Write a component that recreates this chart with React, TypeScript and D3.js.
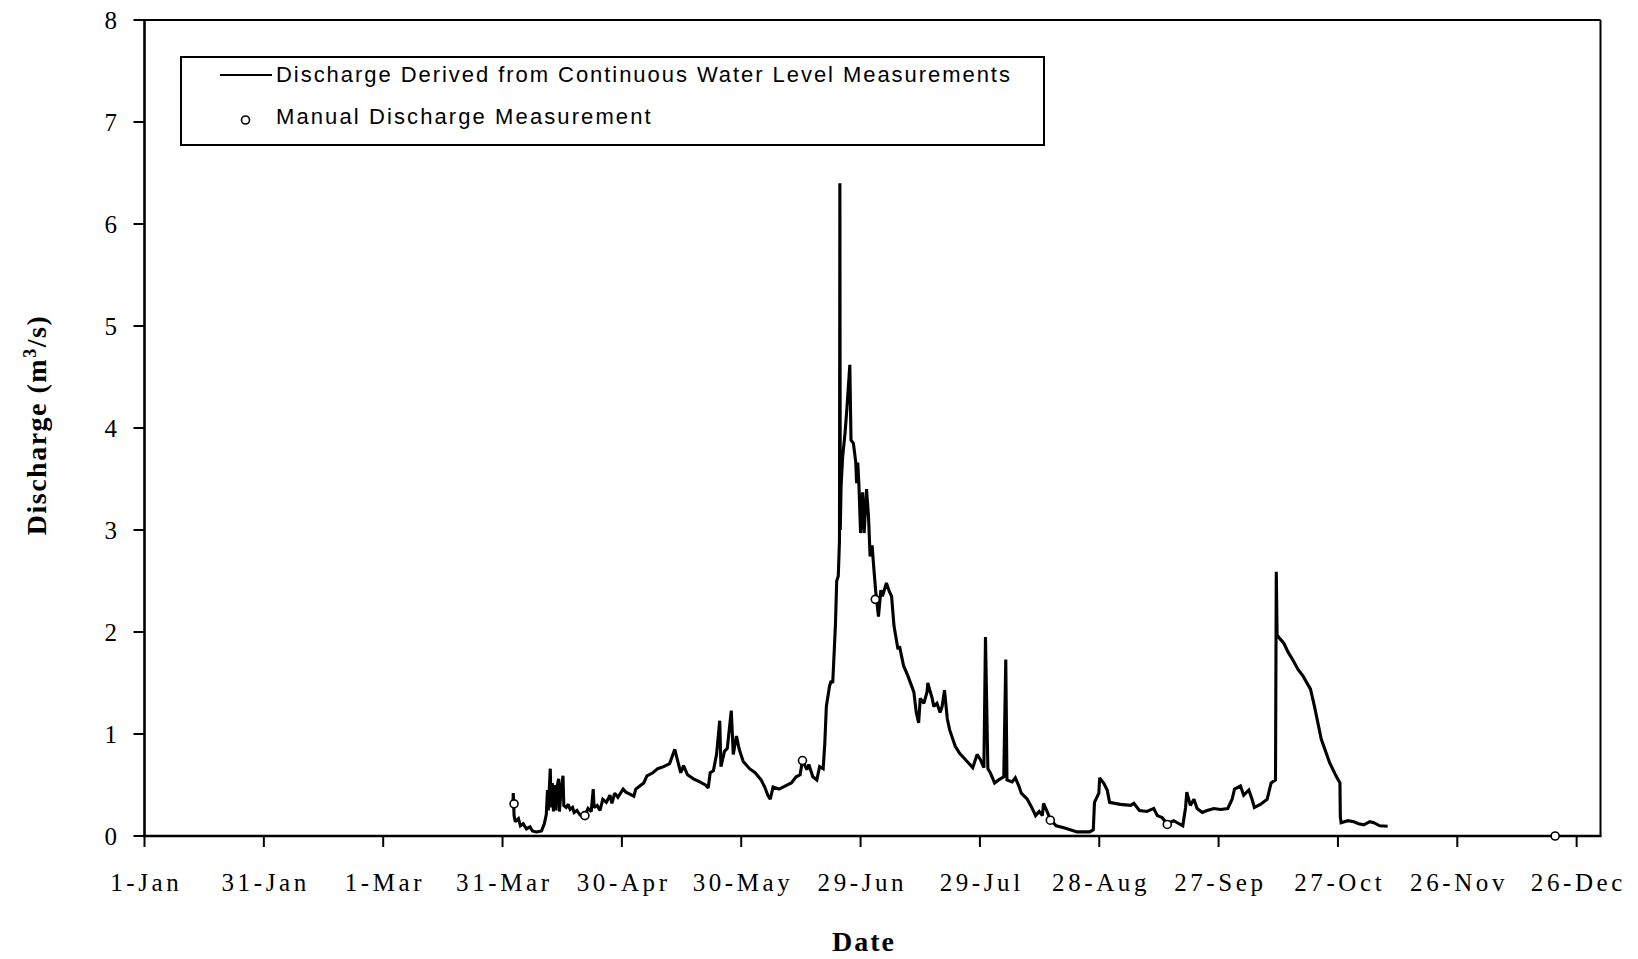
import React from "react";
import * as d3 from "d3";

// Day of year (0 = 1-Jan), discharge in m3/s
const dischargeSeries: [number, number][] = [
  [92.6, 0.3], [92.7, 0.42], [92.9, 0.2], [93.2, 0.14], [94, 0.17], [94.5, 0.1], [95.2, 0.12], [96, 0.07],
  [96.9, 0.09], [97.5, 0.05], [98.5, 0.04], [99.8, 0.05], [100.5, 0.12], [101, 0.21],
  [101.3, 0.45], [101.5, 0.25], [101.8, 0.5], [102, 0.66], [102.2, 0.28], [102.5, 0.52], [102.8, 0.24],
  [103.1, 0.5], [103.4, 0.25], [103.7, 0.48], [104.1, 0.56], [104.3, 0.24], [104.7, 0.45], [105.2, 0.59],
  [105.4, 0.3], [106, 0.28], [106.5, 0.31], [107, 0.26], [107.6, 0.28], [108, 0.23], [108.7, 0.25], [109.4, 0.21], [110, 0.19], [110.7, 0.2],
  [111.5, 0.27], [112.3, 0.24], [112.8, 0.46], [113, 0.28], [113.8, 0.3], [114.5, 0.25], [115.2, 0.36],
  [116.1, 0.33], [117, 0.4], [117.5, 0.32], [118.2, 0.42], [119, 0.38], [120.3, 0.46], [121, 0.43],
  [122, 0.41], [123, 0.39], [123.5, 0.46], [124.5, 0.49], [125.5, 0.52], [126.3, 0.59], [127.8, 0.62],
  [129, 0.66], [130.5, 0.68], [132, 0.71], [133.3, 0.85], [134, 0.74], [134.8, 0.62], [135.5, 0.69],
  [136.5, 0.6], [138, 0.56], [139.6, 0.53], [141, 0.5], [141.7, 0.47], [142.2, 0.62], [143, 0.64],
  [143.8, 0.8], [144.6, 1.13], [144.9, 0.68], [145.8, 0.83], [146.5, 0.86], [147.5, 1.23], [148, 0.8],
  [148.8, 0.98], [149.5, 0.85], [150.5, 0.73], [152.1, 0.66], [153.5, 0.62], [155, 0.55], [155.9, 0.48],
  [156.7, 0.4], [157.3, 0.36], [158, 0.48], [159.5, 0.46], [161, 0.49], [162.6, 0.52], [163.8, 0.58],
  [164.8, 0.6], [165.4, 0.74], [166.5, 0.65], [167, 0.7], [168, 0.58], [169, 0.55], [169.7, 0.68],
  [170.6, 0.66], [171, 0.9], [171.4, 1.27], [172.2, 1.47], [172.6, 1.52], [173, 1.5], [173.4, 1.83],
  [173.7, 2.09], [174, 2.5], [174.4, 2.55], [174.7, 2.9], [174.8, 6.4], [174.9, 3.0], [175.1, 3.43],
  [175.5, 3.72], [176.1, 3.95], [176.6, 4.21], [177.3, 4.62], [177.6, 3.88], [178.2, 3.85], [178.8, 3.66],
  [179, 3.46], [179.3, 3.66], [179.6, 3.43], [180, 2.97], [180.5, 3.37], [180.9, 2.97], [181.5, 3.4],
  [182, 3.13], [182.4, 2.74], [182.9, 2.85], [183.3, 2.64], [183.8, 2.4], [184.5, 2.15], [185.1, 2.41],
  [185.5, 2.35], [186.5, 2.48], [187.2, 2.4], [187.8, 2.35], [188.4, 2.06], [189.4, 1.83], [189.8, 1.86],
  [190.8, 1.67], [191.9, 1.57], [193.4, 1.41], [194, 1.21], [194.6, 1.11], [195, 1.35], [195.9, 1.3],
  [196.7, 1.41], [196.9, 1.5], [198, 1.35], [198.4, 1.27], [199.2, 1.3], [200, 1.21], [200.5, 1.27],
  [201.1, 1.43], [201.8, 1.15], [202.4, 1.04], [203.8, 0.88], [204.9, 0.81], [206.8, 0.73], [208.2, 0.67],
  [209.3, 0.8], [210.1, 0.75], [211, 0.67], [211.4, 1.95], [212, 0.66], [212.6, 0.62], [213.7, 0.52],
  [214.7, 0.55], [216, 0.58], [216.5, 1.73], [216.8, 0.55], [218.1, 0.53], [218.9, 0.57], [219.8, 0.49],
  [220.4, 0.42], [221.9, 0.36], [222.9, 0.29], [224, 0.2], [224.9, 0.24], [225.7, 0.2], [226, 0.32],
  [226.9, 0.24], [227.7, 0.16], [229.2, 0.1], [231.1, 0.08], [232.5, 0.064], [234.4, 0.04], [237.6, 0.04],
  [238.5, 0.06], [238.8, 0.33], [239.9, 0.42], [240.1, 0.57], [241.1, 0.52], [242, 0.45], [242.6, 0.33],
  [245.3, 0.31], [247.9, 0.3], [248.7, 0.32], [250.1, 0.25], [252, 0.24], [253.7, 0.27], [254.6, 0.2],
  [255.8, 0.18], [257.1, 0.12], [258.7, 0.15], [261, 0.1], [261.7, 0.28], [262, 0.43], [262.9, 0.3],
  [263.8, 0.36], [264.6, 0.27], [265.9, 0.23], [267.1, 0.25], [268.8, 0.27], [270.5, 0.26], [272.3, 0.27],
  [273.4, 0.36], [274, 0.46], [275.5, 0.49], [276.3, 0.4], [277.6, 0.45], [278.4, 0.36], [279, 0.28],
  [280.5, 0.31], [282.2, 0.36], [283.2, 0.52], [284.3, 0.55], [284.5, 2.59], [284.7, 1.97], [285.5, 1.93],
  [286.4, 1.89], [287.5, 1.8], [288.6, 1.73], [290, 1.63], [291.2, 1.57], [293.1, 1.44], [294.1, 1.27],
  [295.8, 0.95], [297.9, 0.72], [299.5, 0.59], [300.5, 0.52], [300.6, 0.19], [300.8, 0.13], [302.5, 0.15],
  [304, 0.14], [305.2, 0.12], [306.5, 0.11], [308, 0.14], [309, 0.13], [310.5, 0.1], [312.5, 0.096],
];

const manualMeasurements: [number, number][] = [
  [92.9, 0.315], [110.7, 0.2], [165.4, 0.74], [183.7, 2.32], [227.7, 0.155], [257.1, 0.113], [354.6, 0.0],
];

const xTickDays = [0, 30, 60, 90, 120, 150, 180, 210, 240, 270, 300, 330, 360];
const xTickLabels = [
  "1-Jan", "31-Jan", "1-Mar", "31-Mar", "30-Apr", "30-May", "29-Jun",
  "29-Jul", "28-Aug", "27-Sep", "27-Oct", "26-Nov", "26-Dec",
];
const yTicks = [0, 1, 2, 3, 4, 5, 6, 7, 8];

const legendLineLabel = "Discharge Derived from Continuous Water Level Measurements";
const legendPointLabel = "Manual Discharge Measurement";

const W = 1638;
const H = 959;
const left = 144.5;
const right = 1600.5;
const top = 20;
const bottom = 836;

export default function App() {
  const x = d3.scaleLinear().domain([0, 366]).range([left, right]);
  const y = d3.scaleLinear().domain([0, 8]).range([bottom, top]);
  const line = d3
    .line<[number, number]>()
    .x((d) => x(d[0]))
    .y((d) => y(d[1]));

  const serif = "'Liberation Serif', 'Times New Roman', serif";
  const sans = "'Liberation Sans', Arial, sans-serif";

  return (
    <svg
      width={W}
      height={H}
      style={{ position: "absolute", left: 0, top: 0, background: "#fff" }}
    >
      <rect x={0} y={0} width={W} height={H} fill="#fff" />
      {/* frame */}
      <line x1={left} x2={right} y1={top} y2={top} stroke="#000" strokeWidth={2} />
      <line x1={right} x2={right} y1={top} y2={bottom} stroke="#000" strokeWidth={2} />
      {/* data line */}
      <path d={line(dischargeSeries) ?? ""} fill="none" stroke="#000" strokeWidth={3.1} strokeLinejoin="miter" strokeMiterlimit={2} />
      {/* axes */}
      <line x1={left} x2={left} y1={top - 1} y2={bottom + 1.2} stroke="#000" strokeWidth={2.6} />
      <line x1={left - 1} x2={right + 1} y1={bottom} y2={bottom} stroke="#000" strokeWidth={2.4} />
      {yTicks.map((t) => (
        <g key={"y" + t}>
          <line x1={left - 11} x2={left} y1={y(t)} y2={y(t)} stroke="#000" strokeWidth={2} />
          <text
            x={117}
            y={y(t)}
            dy="0.35em"
            textAnchor="end"
            fontFamily={serif}
            fontSize={25}
          >
            {t}
          </text>
        </g>
      ))}
      {xTickDays.map((t, i) => (
        <g key={"x" + t}>
          <line x1={x(t)} x2={x(t)} y1={bottom} y2={bottom + 11} stroke="#000" strokeWidth={2} />
          <text
            x={x(t) + 1.8}
            y={891}
            textAnchor="middle"
            fontFamily={serif}
            fontSize={25}
            letterSpacing={3.6}
          >
            {xTickLabels[i]}
          </text>
        </g>
      ))}
      {/* manual measurements */}
      {manualMeasurements.map((d, i) => (
        <circle key={"m" + i} cx={x(d[0])} cy={y(d[1])} r={4} fill="#fff" stroke="#000" strokeWidth={1.6} />
      ))}
      {/* axis titles */}
      <text
        x={864}
        y={951}
        textAnchor="middle"
        fontFamily={serif}
        fontWeight="bold"
        fontSize={28}
        letterSpacing={2}
      >
        Date
      </text>
      <text
        transform="translate(46,425) rotate(-90)"
        textAnchor="middle"
        fontFamily={serif}
        fontWeight="bold"
        fontSize={28}
        letterSpacing={1.5}
      >
        Discharge (m
        <tspan dy={-10} fontSize={18}>3</tspan>
        <tspan dy={10}>/s)</tspan>
      </text>
      {/* legend */}
      <rect x={181} y={57} width={863} height={88} fill="#fff" stroke="#000" strokeWidth={2} />
      <line x1={220} x2={272} y1={75} y2={75} stroke="#000" strokeWidth={2} />
      <text x={276} y={82} fontFamily={sans} fontSize={22} letterSpacing={1.95}>
        {legendLineLabel}
      </text>
      <circle cx={245.5} cy={120} r={4} fill="#fff" stroke="#000" strokeWidth={1.6} />
      <text x={276} y={124} fontFamily={sans} fontSize={22} letterSpacing={2.1}>
        {legendPointLabel}
      </text>
    </svg>
  );
}
